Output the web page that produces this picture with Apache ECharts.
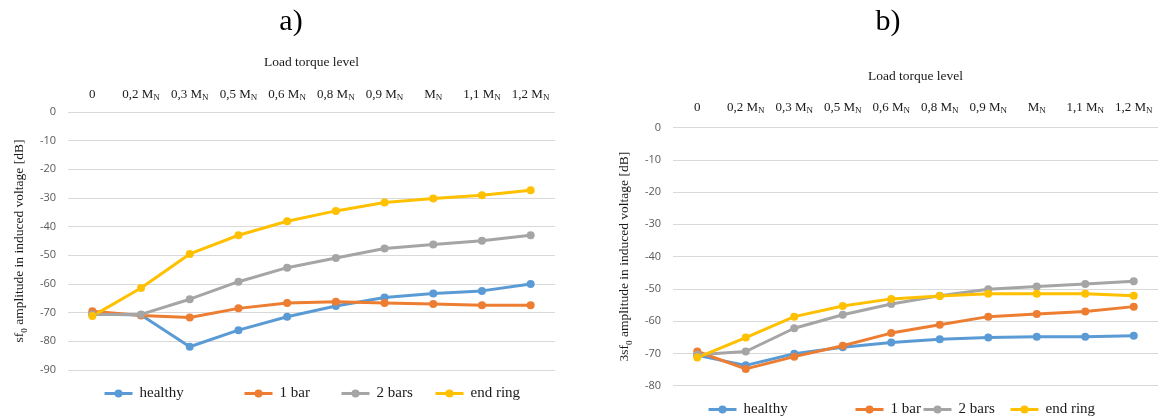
<!DOCTYPE html>
<html><head><meta charset="utf-8">
<script src="https://cdn.jsdelivr.net/npm/echarts@6/dist/echarts.min.js"></script>
<style>html,body{margin:0;padding:0;background:#fff}#c{width:1161px;height:418px}</style>
</head><body><div id="c"></div>
<script>
const categories = ['0','0,2 MN','0,3 MN','0,5 MN','0,6 MN','0,8 MN','0,9 MN','MN','1,1 MN','1,2 MN'];
const seriesNames = ['healthy','1 bar','2 bars','end ring'];
const colors = ['#5B9BD5','#ED7D31','#A5A5A5','#FFC000'];
// chart a) sf0
const aHealthy = [-70.5,-70.8,-81.9,-76.1,-71.4,-67.7,-64.7,-63.3,-62.4,-60.0];
const aOneBar  = [-69.5,-71.0,-71.7,-68.5,-66.6,-66.2,-66.6,-67.0,-67.4,-67.4];
const aTwoBars = [-70.6,-70.6,-65.3,-59.2,-54.3,-50.9,-47.6,-46.2,-44.9,-43.0];
const aEndRing = [-71.2,-61.4,-49.5,-43.0,-38.1,-34.5,-31.6,-30.2,-29.0,-27.3];
// chart b) 3sf0
const bHealthy = [-70.6,-73.7,-70.1,-68.1,-66.6,-65.6,-65.1,-64.8,-64.8,-64.5];
const bOneBar  = [-69.4,-74.8,-71.0,-67.6,-63.7,-61.1,-58.6,-57.8,-57.0,-55.5];
const bTwoBars = [-70.4,-69.4,-62.2,-58.0,-54.7,-52.1,-50.1,-49.3,-48.5,-47.6];
const bEndRing = [-71.3,-65.1,-58.6,-55.3,-53.1,-52.2,-51.5,-51.5,-51.5,-52.1];

const serif = 'Liberation Serif';
const chart = echarts.init(document.getElementById('c'), null, {renderer:'canvas'});

function catFmt(v){
  if (v.endsWith('MN')) return '{m|' + v.slice(0, -1) + '}{s|N}';
  return '{m|' + v + '}';
}
const catRich = {
  m:{fontFamily:serif,fontSize:13,color:'#1a1a1a',lineHeight:16,verticalAlign:'bottom'},
  s:{fontFamily:serif,fontSize:9,color:'#1a1a1a',lineHeight:16,verticalAlign:'bottom',padding:[0,0,-1,0]}
};
function xAx(gi, gap, ngap){
  return {type:'category',gridIndex:gi,position:'top',data:categories,boundaryGap:true,
    axisLine:{show:false},axisTick:{show:false},
    axisLabel:{formatter:catFmt,rich:catRich,margin:gap,interval:0},
    name:'Load torque level',nameLocation:'middle',nameGap:ngap,
    nameTextStyle:{fontFamily:serif,fontSize:13.5,color:'#1a1a1a'}};
}
function yAx(gi, min, pre){
  return {type:'value',gridIndex:gi,min:min,max:0,interval:10,
    axisLine:{show:false},axisTick:{show:false},
    splitLine:{lineStyle:{color:'#D9D9D9',width:1}},
    axisLabel:{fontFamily:'Open Sans',fontSize:11,color:'#595959',margin:12},
    name:'{n|' + pre + 'sf}{s|0}{n| amplitude in induced voltage [dB]}',
    nameLocation:'middle',nameRotate:90,nameGap:42,
    nameTextStyle:{rich:{
      n:{fontFamily:serif,fontSize:13.5,color:'#1a1a1a',lineHeight:16,verticalAlign:'bottom'},
      s:{fontFamily:serif,fontSize:9,color:'#1a1a1a',lineHeight:16,verticalAlign:'bottom',padding:[0,0,-3,0]}}}};
}
function mk(name, data, i, gi){
  return {type:'line',name:name,data:data,xAxisIndex:gi,yAxisIndex:gi,
    symbol:'circle',symbolSize:8,showSymbol:true,
    lineStyle:{color:colors[i],width:3},itemStyle:{color:colors[i]},
    emphasis:{disabled:true},animation:false};
}
function lg(name, left, top){
  return {data:[name],left:left,top:top,padding:0,itemWidth:28,itemHeight:10,itemGap:0,
    lineStyle:{width:3},
    textStyle:{fontFamily:serif,fontSize:15,color:'#1a1a1a',padding:[0,0,0,2]},selectedMode:false};
}
const aSeries = [aHealthy,aOneBar,aTwoBars,aEndRing];
const bSeries = [bHealthy,bOneBar,bTwoBars,bEndRing];
const series = [];
aSeries.forEach((d,i)=>series.push(mk(seriesNames[i], d, i, 0)));
bSeries.forEach((d,i)=>series.push(mk(seriesNames[i], d, i, 1)));

chart.setOption({
  animation:false,
  color:colors,
  grid:[
    {left:68,top:112,width:487,height:258,containLabel:false},
    {left:673,top:127.5,width:485,height:258.2,containLabel:false}
  ],
  xAxis:[xAx(0,11,43),xAx(1,13,44.5)],
  yAxis:[yAx(0,-90,''),yAx(1,-80,'3')],
  legend:[
    lg('healthy',103,386),lg('1 bar',243,386),lg('2 bars',340,386),lg('end ring',434,386),
    lg('healthy',707,402),lg('1 bar',854,402),lg('2 bars',922,402),lg('end ring',1009,402)
  ],
  graphic:[
    {type:'text',x:291,y:22,style:{text:'a)',fontFamily:serif,fontSize:30,fill:'#000',textAlign:'center',textVerticalAlign:'middle'}},
    {type:'text',x:888,y:22,style:{text:'b)',fontFamily:serif,fontSize:30,fill:'#000',textAlign:'center',textVerticalAlign:'middle'}}
  ],
  series:series
});
</script>
</body></html>
